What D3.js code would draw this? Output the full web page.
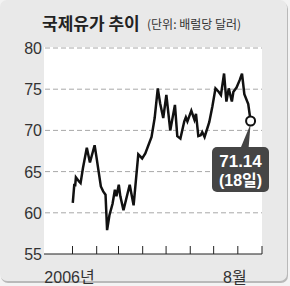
<!DOCTYPE html>
<html>
<head>
<meta charset="utf-8">
<script src="https://cdn.jsdelivr.net/npm/d3@7"></script>
<style>
  html, body { margin: 0; padding: 0; background: #f3f3f3; }
  #chart { width: 290px; height: 286px; }
</style>
</head>
<body>
<div id="chart"></div>
<script>
var dates = ["2006-01-02","2006-01-04","2006-01-05","2006-01-06","2006-01-10","2006-01-12",
  "2006-01-15","2006-01-20","2006-01-24","2006-01-30","2006-02-01","2006-02-07","2006-02-10",
  "2006-02-13","2006-02-15","2006-02-18","2006-02-22","2006-02-25","2006-02-27","2006-03-02",
  "2006-03-04","2006-03-08","2006-03-16","2006-03-21","2006-03-27","2006-04-01","2006-04-05",
  "2006-04-13","2006-04-17","2006-04-21","2006-04-24","2006-04-28","2006-05-02","2006-05-07",
  "2006-05-13","2006-05-16","2006-05-20","2006-05-25","2006-05-27","2006-05-29","2006-06-03",
  "2006-06-07","2006-06-09","2006-06-12","2006-06-15","2006-06-17","2006-06-20","2006-06-26",
  "2006-06-30","2006-07-04","2006-07-08","2006-07-11","2006-07-15","2006-07-18","2006-07-21",
  "2006-07-25","2006-07-27","2006-07-31","2006-08-04","2006-08-07","2006-08-10","2006-08-15",
  "2006-08-18"];
var prices = [61.2,63.5,63.2,64.3,63.8,63.6,
  65.4,67.9,66.1,68.2,67.0,63.2,62.6,
  62.2,57.9,59.7,61.1,62.8,62.0,63.4,
  62.0,60.3,63.4,60.9,67.1,66.6,67.2,
  69.2,71.5,75.1,73.3,71.5,74.3,70.0,
  73.1,69.3,69.0,71.1,71.6,71.1,72.4,
  71.3,72.0,69.3,69.4,69.8,69.2,71.0,
  72.9,75.1,74.7,74.3,76.9,73.5,75.1,
  73.5,74.7,75.2,76.1,76.9,74.4,73.2,
  71.14];
var yTicks = [55, 60, 65, 70, 75, 80];
var monthTicks = ["2006-01-01","2006-02-01","2006-03-01","2006-04-01","2006-05-01",
  "2006-06-01","2006-07-01","2006-08-01","2006-09-01"];
var monthLabels = {"2006-01-01": "2006년", "2006-08-01": "8월"};
var lastValue = "71.14";
var lastDay = "(18일)";

var parse = d3.timeParse("%Y-%m-%d");
var fmt = d3.timeFormat("%Y-%m-%d");
var data = dates.map((d, i) => ({date: parse(d), v: prices[i]}));

var pxX = 290, pxY = 286;
var svg = d3.select("#chart").append("svg")
  .attr("width", pxX)
  .attr("height", pxY)
  .style("font-family", "'Liberation Sans', Arial, sans-serif");

// --- card background ---

svg.append("rect")
  .attr("x", 1).attr("y", 2)
  .attr("width", 287).attr("height", 281)
  .attr("rx", 7)
  .attr("fill", "#b9b9b9");
svg.append("rect")
  .attr("x", 0).attr("y", 0)
  .attr("width", 287).attr("height", 281)
  .attr("rx", 7)
  .attr("fill", "#e9e9e9");

var plotL = 44, plotR = 262, plotT = 47, plotB = 254;

svg.append("rect")
  .attr("x", plotL).attr("y", plotT)
  .attr("width", plotR - plotL).attr("height", plotB - plotT)
  .attr("fill", "#fff");

// --- scales ---

var scX = d3.scaleTime()
  .domain([parse("2006-01-01"), parse("2006-09-01")])
  .range([72, 261.5]);
var scY = d3.scaleLinear()
  .domain([55, 80])
  .range([plotB, 48]);

// --- grid and y labels ---

svg.append("g")
  .selectAll("line")
  .data(yTicks.filter(t => t > 55))
  .enter()
  .append("line")
  .attr("x1", plotL + 1).attr("x2", plotR)
  .attr("y1", d => scY(d)).attr("y2", d => scY(d))
  .attr("stroke", "#a8a8a8")
  .attr("stroke-width", 1)
  .attr("stroke-dasharray", "5,3");

svg.append("g")
  .selectAll("text")
  .data(yTicks)
  .enter()
  .append("text")
  .attr("x", 42)
  .attr("y", d => scY(d) + 6)
  .attr("text-anchor", "end")
  .attr("font-size", 16)
  .attr("fill", "#333")
  .text(d => d);

// --- x axis ---

var xAxis = svg.append("g")
  .attr("transform", `translate(0, ${plotB})`)
  .call(d3.axisBottom(scX)
    .tickValues(monthTicks.map(parse))
    .tickSizeInner(-8)
    .tickSizeOuter(0)
    .tickFormat(d => monthLabels[fmt(d)] || ""));
xAxis.select(".domain").remove();
xAxis.selectAll(".tick line").attr("stroke", "#222");
xAxis.selectAll(".tick text")
  .attr("y", 18)
  .attr("dx", -3)
  .attr("font-size", 16)
  .attr("font-family", "'Liberation Sans', 'Noto Sans CJK KR', sans-serif")
  .attr("fill", "#333");

svg.append("line")
  .attr("x1", plotL).attr("x2", plotR)
  .attr("y1", plotB).attr("y2", plotB)
  .attr("stroke", "#222")
  .attr("stroke-width", 1.2);

// --- price line ---

var lnMkr = d3.line()
  .x(d => scX(d.date))
  .y(d => scY(d.v));

svg.append("path")
  .attr("d", lnMkr(data))
  .attr("fill", "none")
  .attr("stroke", "#111")
  .attr("stroke-width", 2.5)
  .attr("stroke-linejoin", "miter");

// --- last value callout ---

var last = data[data.length - 1];
var cx = scX(last.date), cy = scY(last.v);

var boxX = 212, boxY = 147, boxW = 57, boxH = 45;
svg.append("path")
  .attr("d", `M${cx},${cy + 3} L${cx - 2},${boxY + 1} L${cx - 10},${boxY + 1} Z`)
  .attr("fill", "#444");
svg.append("rect")
  .attr("x", boxX).attr("y", boxY)
  .attr("width", boxW).attr("height", boxH)
  .attr("rx", 5)
  .attr("fill", "#454545");

svg.append("circle")
  .attr("cx", cx).attr("cy", cy)
  .attr("r", 4.5)
  .attr("fill", "#fff")
  .attr("stroke", "#111")
  .attr("stroke-width", 2);

svg.append("text")
  .attr("x", boxX + boxW / 2).attr("y", boxY + 20)
  .attr("text-anchor", "middle")
  .attr("font-size", 17)
  .attr("font-weight", "bold")
  .attr("fill", "#fff")
  .text(lastValue);
svg.append("text")
  .attr("x", boxX + boxW / 2).attr("y", boxY + 39)
  .attr("text-anchor", "middle")
  .attr("font-size", 16)
  .attr("font-weight", "bold")
  .attr("font-family", "'Liberation Sans', 'Noto Sans CJK KR', sans-serif")
  .attr("fill", "#fff")
  .text(lastDay);

// --- title ---

svg.append("text")
  .attr("x", 42).attr("y", 30)
  .attr("font-size", 17)
  .attr("font-weight", "bold")
  .attr("font-family", "'Noto Sans CJK KR', sans-serif")
  .attr("fill", "#222")
  .text("국제유가 추이");
svg.append("text")
  .attr("x", 147).attr("y", 29)
  .attr("font-size", 12)
  .attr("font-family", "'Noto Sans CJK KR', sans-serif")
  .attr("fill", "#333")
  .text("(단위: 배럴당 달러)");
</script>
</body>
</html>
